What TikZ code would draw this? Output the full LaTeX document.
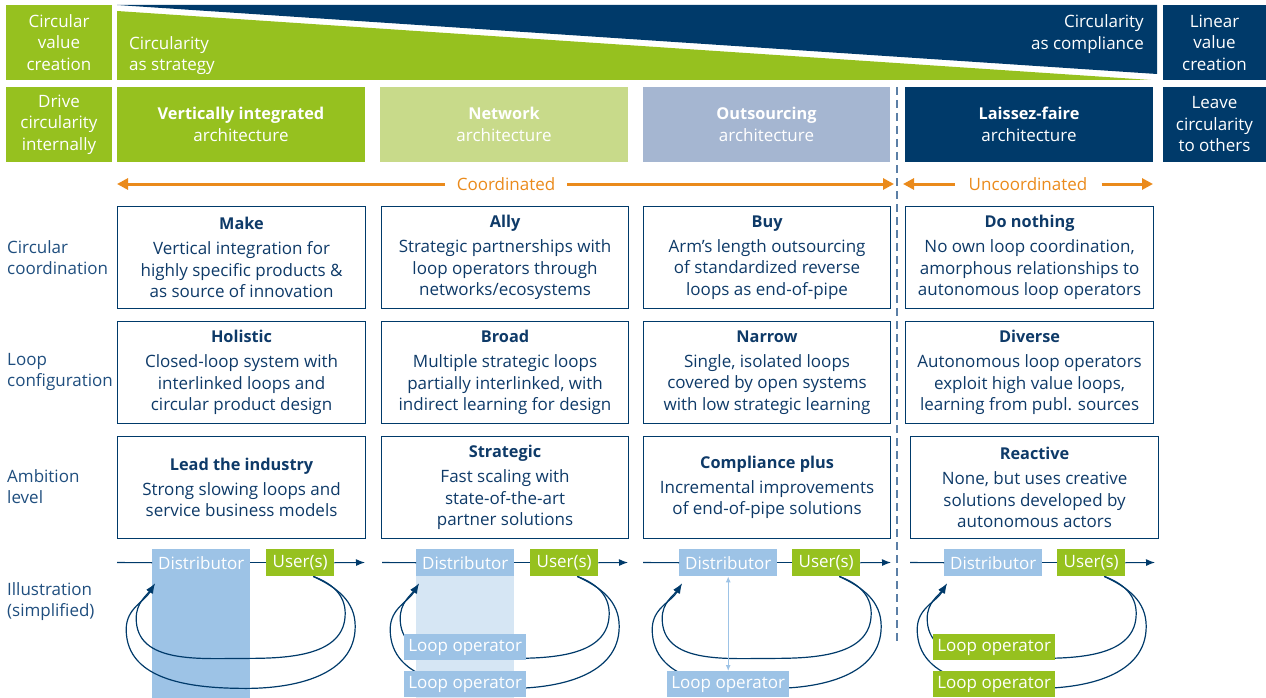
\documentclass[tikz,border=0pt]{standalone}
\usepackage{fontspec}
\setmainfont{Open Sans}
\usetikzlibrary{arrows.meta,calc}
\definecolor{cgreen}{HTML}{96C11F}
\definecolor{clgreen}{HTML}{C8DA8A}
\definecolor{coutsrc}{HTML}{A5B6D1}
\definecolor{cnavy}{HTML}{003A6A}
\definecolor{corange}{HTML}{EA8A1B}
\definecolor{cdist}{HTML}{9DC3E6}
\definecolor{cpale}{HTML}{D6E6F4}
\definecolor{cboxtxt}{HTML}{0E3A68}
\definecolor{clabel}{HTML}{1F4E7E}
\definecolor{cdash}{HTML}{5B7FA6}
\pgfdeclarelayer{bg}
\pgfsetlayers{bg,main}
\newcommand\txtf{\fontsize{17}{21.5}\selectfont}
\newcommand\ttl[1]{{\fontsize{16.3}{21.5}\selectfont\bfseries #1}\\[3.5pt]}
\newcommand\drawloops[2]{%
  \draw[loopln] ($(#1.south)+(13,0)$) to[out=-20,in=90] ++(32,37) to[out=-90,in=0] ++(-99,45)
     to[out=180,in=-90] ++(-110,-40) to[out=90,in=-125] (#2);
  \draw[loopln] ($(#1.south)+(13,0)$) to[out=-25,in=90] ++(42,50) to[out=-90,in=0] ++(-109,62)
     to[out=180,in=-90] ++(-120,-59) to[out=90,in=-120] (#2);
}
\begin{document}
\begin{tikzpicture}[x=1pt,y=-1pt,
  hdr/.style={anchor=north west, inner sep=0pt, outer sep=0pt, text=white, align=center, font=\txtf, minimum height=75pt},
  cbox/.style={anchor=north west, draw=cnavy, line width=1.1pt, inner sep=0pt, minimum width=247pt, minimum height=102pt, align=center, text=cboxtxt, font=\txtf},
  lab/.style={anchor=west, align=left, text=clabel, font=\txtf, inner sep=0pt},
  tag/.style={anchor=north west, inner sep=0pt, text=white, font=\txtf, minimum height=27pt},
  dist/.style={tag, fill=cdist, minimum width=98pt},
  usr/.style={tag, fill=cgreen, minimum width=68pt},
  lop/.style={tag, minimum width=122pt, minimum height=26pt},
  flow/.style={draw=cnavy, line width=1.1pt},
  flowarr/.style={flow, -{Latex[length=9pt,width=7pt]}},
  loopln/.style={draw=cnavy, line width=1.2pt, -{Latex[length=10pt,width=7pt]}},
  oarr/.style={draw=corange, line width=3pt, -{Triangle[length=11pt,width=11pt]}},
  otext/.style={text=corange, font=\txtf, inner ysep=0pt},
  dashln/.style={draw=cdash, line width=1.5pt, dash pattern=on 8pt off 5pt}
]
\useasboundingbox (0,0) rectangle (1266,698);

% ---------- top banner ----------
\node[hdr, fill=cgreen, minimum width=106pt] (cvc) at (6,5) {Circular\\value\\creation};
\fill[cnavy] (117,5) -- (1157,5) -- (1157,74) -- cycle;
\fill[cgreen] (117,11) -- (1151,80) -- (117,80) -- cycle;
\node[anchor=west, align=left, text=white, font=\txtf, inner sep=0pt] (strat) at (129,55.5) {Circularity\\as strategy};
\node[anchor=east, align=right, text=white, font=\txtf, inner sep=0pt] (compl) at (1144,34) {Circularity\\as compliance};
\node[hdr, fill=cnavy, minimum width=103pt] (lvc) at (1163,5) {Linear\\value\\creation};

% ---------- architecture row ----------
\node[hdr, fill=cgreen, minimum width=106pt] (dci) at (6,87) {Drive\\circularity\\internally};
\node[hdr, fill=cgreen, minimum width=248pt] (vi) at (117,87) {{\fontsize{16.3}{21.5}\selectfont\bfseries Vertically integrated}\\architecture};
\node[hdr, fill=clgreen, minimum width=248pt] (net) at (380,87) {{\fontsize{16.3}{21.5}\selectfont\bfseries Network}\\architecture};
\node[hdr, fill=coutsrc, minimum width=247pt] (outs) at (643,87) {{\fontsize{16.3}{21.5}\selectfont\bfseries Outsourcing}\\architecture};
\node[hdr, fill=cnavy, minimum width=248pt] (lf) at (905,87) {{\fontsize{16.3}{21.5}\selectfont\bfseries Laissez-faire}\\architecture};
\node[hdr, fill=cnavy, minimum width=103pt] (lco) at (1163,87) {Leave\\circularity\\to others};

% ---------- dashed separator ----------
\coordinate (dtop) at (897,87);
\coordinate (dbot) at (897,642);
\draw[dashln] (dtop) -- (dbot);

% ---------- orange arrows ----------
\coordinate (cl) at (117,184);
\coordinate (cr) at (894,184);
\node[otext, inner xsep=12pt] (coord) at (506,184) {Coordinated};
\draw[oarr] (coord.west) -- (cl);
\draw[oarr] (coord.east) -- (cr);
\coordinate (ul) at (903,184);
\coordinate (ur) at (1153,184);
\node[otext, inner xsep=14pt] (uncoord) at (1028,184) {Uncoordinated};
\draw[oarr] (uncoord.west) -- (ul);
\draw[oarr] (uncoord.east) -- (ur);

% ---------- row labels ----------
\node[lab] (l1) at (7,257.5) {Circular\\coordination};
\node[lab] (l2) at (7,372) {Loop\\configuration};
\node[lab] (l3) at (7,486.5) {Ambition\\level};
\node[lab] (l4) at (7,601.5) {Illustration\\(simplified)};

% ---------- row A ----------
\node[cbox, minimum width=248pt] (a1) at (117,206) {\ttl{Make}Vertical integration for\\highly specific products \&\\as source of innovation};
\node[cbox] (a2) at (381,206) {\ttl{Ally}Strategic partnerships with\\loop operators through\\networks/ecosystems};
\node[cbox] (a3) at (643,206) {\ttl{Buy}Arm’s length outsourcing\\of standardized reverse\\loops as end-of-pipe};
\node[cbox, minimum width=248pt] (a4) at (905,206) {\ttl{Do nothing}No own loop coordination,\\amorphous relationships to\\autonomous loop operators};

% ---------- row B ----------
\node[cbox, minimum width=248pt] (b1) at (117,321) {\ttl{Holistic}Closed-loop system with\\interlinked loops and\\circular product design};
\node[cbox] (b2) at (381,321) {\ttl{Broad}Multiple strategic loops\\partially interlinked, with\\indirect learning for design};
\node[cbox] (b3) at (643,321) {\ttl{Narrow}Single, isolated loops\\covered by open systems\\with low strategic learning};
\node[cbox, minimum width=248pt] (b4) at (905,321) {\ttl{Diverse}Autonomous loop operators\\exploit high value loops,\\learning from publ. sources};

% ---------- row C ----------
\node[cbox, minimum width=248pt] (c1) at (117,436) {\ttl{Lead the industry}Strong slowing loops and\\service business models};
\node[cbox] (c2) at (381,436) {\ttl{Strategic}Fast scaling with\\state-of-the-art\\partner solutions};
\node[cbox] (c3) at (643,436) {\ttl{Compliance plus}Incremental improvements\\of end-of-pipe solutions};
\node[cbox, minimum width=248pt] (c4) at (910,436) {\ttl{Reactive}None, but uses creative\\solutions developed by\\autonomous actors};

% ---------- illustrations ----------
\coordinate (bot) at (0,698);
% column 1
\node[dist] (d1) at (152,549) {Distributor};
\node[usr] (u1) at (266,549) {User(s)};
\coordinate (s1) at (117,562.5);
\coordinate (e1) at (365,562.5);
\coordinate (t1) at ($(d1.south west)+(3,7)$);
\draw[flow] (s1) -- (d1.west);
\draw[flow] (d1.east) -- (u1.west);
\draw[flowarr] (u1.east) -- (e1);
% column 2
\node[dist] (d2) at (416,549) {Distributor};
\node[usr] (u2) at (530,549) {User(s)};
\node[lop, fill=cdist] (o2a) at (404,634) {Loop operator};
\node[lop, fill=cdist] (o2b) at (404,671) {Loop operator};
\coordinate (s2) at (382,562.5);
\coordinate (e2) at (628,562.5);
\coordinate (t2) at ($(d2.south west)+(3,7)$);
\draw[flow] (s2) -- (d2.west);
\draw[flow] (d2.east) -- (u2.west);
\draw[flowarr] (u2.east) -- (e2);
% column 3
\node[dist] (d3) at (679,549) {Distributor};
\node[usr] (u3) at (792,549) {User(s)};
\node[lop, fill=cdist] (o3) at (667,671) {Loop operator};
\coordinate (s3) at (643,562.5);
\coordinate (e3) at (891,562.5);
\coordinate (t3) at ($(d3.south west)+(3,7)$);
\draw[flow] (s3) -- (d3.west);
\draw[flow] (d3.east) -- (u3.west);
\draw[flowarr] (u3.east) -- (e3);
\draw[draw=cdist, line width=1pt, {Latex[length=6pt,width=5pt]}-{Latex[length=6pt,width=5pt]}] (d3.south) -- (o3.north);
% column 4
\node[dist] (d4) at (944,549) {Distributor};
\node[usr] (u4) at (1057,549) {User(s)};
\node[lop, fill=cgreen] (o4a) at (933,634) {Loop operator};
\node[lop, fill=cgreen] (o4b) at (933,671) {Loop operator};
\coordinate (s4) at (910,562.5);
\coordinate (e4) at (1155,562.5);
\coordinate (t4) at ($(d4.south west)+(3,7)$);
\draw[flow] (s4) -- (d4.west);
\draw[flow] (d4.east) -- (u4.west);
\draw[flowarr] (u4.east) -- (e4);

\begin{pgfonlayer}{bg}
  \fill[cdist] (d1.north west) rectangle (d1.east |- bot);
  \fill[cpale] (d2.south west) rectangle (d2.east |- bot);
  \drawloops{u1}{t1}
  \drawloops{u2}{t2}
  \drawloops{u3}{t3}
  \drawloops{u4}{t4}
\end{pgfonlayer}
\end{tikzpicture}
\end{document}
